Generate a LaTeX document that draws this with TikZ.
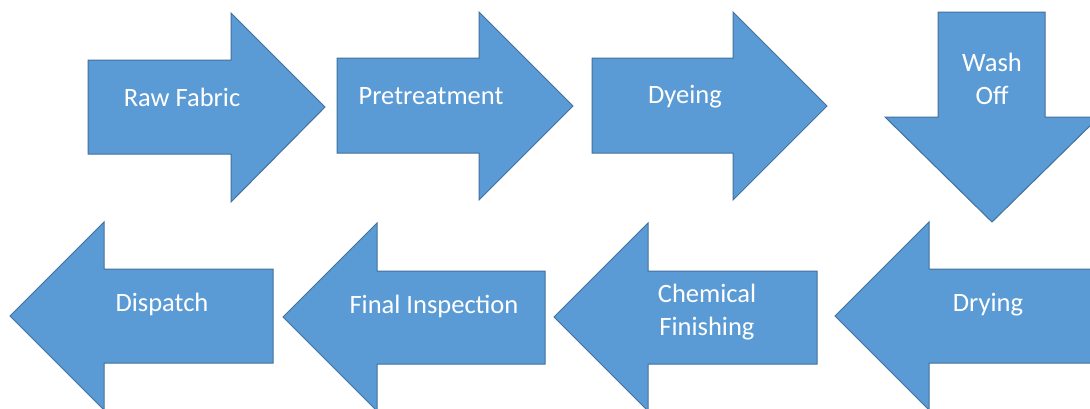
\documentclass[tikz,border=0pt]{standalone}
\usepackage{fontspec}
\setmainfont{Carlito}
\definecolor{arrfill}{HTML}{5B9BD5}
\definecolor{arrline}{HTML}{41719C}
\tikzset{
  arrowshape/.style={fill=arrfill, draw=arrline, line width=1pt, line join=miter},
  lbl/.style={text=white, font=\fontsize{26.5}{33}\selectfont, align=center, inner sep=0pt}
}
\begin{document}
\begin{tikzpicture}[x=1pt, y=-1pt]
\useasboundingbox (0,0) rectangle (1090,408);
\fill[white] (0,0) rectangle (1090,408);
\clip (0,0) rectangle (1090,408);
% top row: right arrows
\draw[arrowshape] (88,60) -- (231,60) -- (231,13) -- (325,107) -- (231,202) -- (231,154) -- (88,154) -- cycle;
\draw[arrowshape] (337,58) -- (479,58) -- (479,12) -- (573,106) -- (479,200) -- (479,153) -- (337,153) -- cycle;
\draw[arrowshape] (592,58) -- (733,58) -- (733,12) -- (827,106) -- (733,200) -- (733,153) -- (592,153) -- cycle;
% down arrow
\draw[arrowshape] (938,12) -- (1045,12) -- (1045,117) -- (1099,117) -- (992,222) -- (885,117) -- (938,117) -- cycle;
% bottom row: left arrows
\draw[arrowshape] (273,269) -- (104,269) -- (104,222) -- (10,316) -- (104,410) -- (104,363) -- (273,363) -- cycle;
\draw[arrowshape] (545,271) -- (377,271) -- (377,223) -- (283,317) -- (377,411) -- (377,364) -- (545,364) -- cycle;
\draw[arrowshape] (817,271) -- (648,271) -- (648,223) -- (554,317) -- (648,411) -- (648,364) -- (817,364) -- cycle;
\draw[arrowshape] (1100,269) -- (929,269) -- (929,222) -- (835,316) -- (929,410) -- (929,363) -- (1100,363) -- cycle;
% labels
\node[lbl] (raw) at (182,97) {Raw Fabric};
\node[lbl] (pre) at (431,96) {Pretreatment};
\node[lbl] (dye) at (685,97) {Dyeing};
\node[lbl] (wash) at (992,79) {Wash\\Off};
\node[lbl] (dry) at (988,305) {Drying};
\node[lbl] (chem) at (707,312) {Chemical\\Finishing};
\node[lbl] (insp) at (434,306) {Final Inspection};
\node[lbl] (disp) at (162,304) {Dispatch};
\end{tikzpicture}
\end{document}
